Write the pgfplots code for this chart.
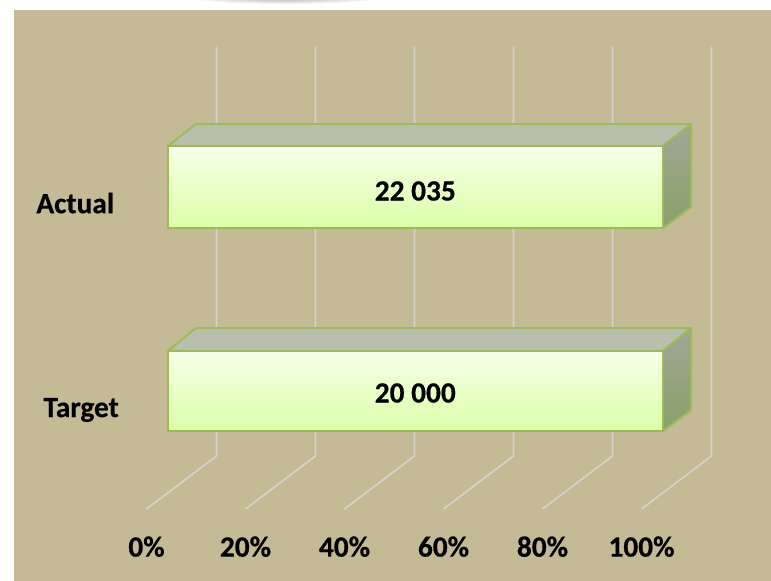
\documentclass[border=0pt]{standalone}
\usepackage{pgfplots}
\usepackage{fontspec}
\setmainfont{Carlito}[BoldFeatures={FakeBold=0.5}]
\pgfplotsset{compat=1.18}
\definecolor{panel}{HTML}{C4BA96}
\definecolor{gridc}{HTML}{D5D3C9}
\definecolor{edge}{HTML}{9BBB59}
\definecolor{topf}{HTML}{B9BFAC}
\definecolor{frontT}{HTML}{F6FFE8}
\definecolor{frontB}{HTML}{DCFFA8}
\definecolor{sideT}{HTML}{A0A698}
\definecolor{sideB}{HTML}{8AA168}

\begin{document}
\begin{tikzpicture}[x=0.75pt,y=-0.75pt]
\path (0,0) rectangle (771,581);
\begin{scope}
\clip (0,0) rectangle (771,10);
\shade[inner color=black!35,outer color=white] (285,-3) ellipse (100 and 7);
\end{scope}
\fill[panel] (14,10) rectangle (771,581);
\begin{axis}[
    at={(109.875pt,-381.75pt)}, anchor=south west,
    scale only axis,
    width=371.25pt, height=346.5pt,
    xmin=0, xmax=100,
    ymin=0, ymax=462,
    clip=false,
    axis line style={draw=none},
    major tick length=0pt,
    xtick={0,20,40,60,80,100},
    xticklabels={0\%,20\%,40\%,60\%,80\%,100\%},
    xticklabel style={font=\fontsize{22}{22}\bfseries, yshift=-17pt},
    ytick=\empty,
]
% gridlines: floor front, elbow, top
\addplot[gridc, line width=1.3pt] coordinates {(0,0) (14.14,53) (14.14,462)};
\addplot[gridc, line width=1.3pt] coordinates {(20,0) (34.14,53) (34.14,462)};
\addplot[gridc, line width=1.3pt] coordinates {(40,0) (54.14,53) (54.14,462)};
\addplot[gridc, line width=1.3pt] coordinates {(60,0) (74.14,53) (74.14,462)};
\addplot[gridc, line width=1.3pt] coordinates {(80,0) (94.14,53) (94.14,462)};
\addplot[gridc, line width=1.3pt] coordinates {(100,0) (114.14,53) (114.14,462)};

% Actual
\addplot[draw=edge, line width=1.5pt, line join=round, fill=topf] coordinates {(4.34,363) (10.0,385) (110.0,385) (104.34,363)} --cycle;
\addplot[draw=edge, line width=1.5pt, line join=round, top color=sideT, bottom color=sideB] coordinates {(104.34,363) (110.0,385) (110.0,302) (104.34,281)} --cycle;
\addplot[draw=edge, line width=1.5pt, line join=round, top color=frontT, bottom color=frontB] coordinates {(4.34,363) (104.34,363) (104.34,281) (4.34,281)} --cycle;

% Target
\addplot[draw=edge, line width=1.5pt, line join=round, fill=topf] coordinates {(4.34,158) (10.0,181) (110.0,181) (104.34,158)} --cycle;
\addplot[draw=edge, line width=1.5pt, line join=round, top color=sideT, bottom color=sideB] coordinates {(104.34,158) (110.0,181) (110.0,99) (104.34,78)} --cycle;
\addplot[draw=edge, line width=1.5pt, line join=round, top color=frontT, bottom color=frontB] coordinates {(4.34,158) (104.34,158) (104.34,78) (4.34,78)} --cycle;

\node[font=\fontsize{22}{22}\bfseries] at (axis cs:54.3,318) {22 035};
\node[font=\fontsize{22}{22}\bfseries] at (axis cs:54.3,116) {20 000};
\node[font=\fontsize{22}{22}\bfseries] at (axis cs:-14.4,306) {Actual};
\node[font=\fontsize{22}{22}\bfseries] at (axis cs:-13.2,99) {Target};
\end{axis}
\end{tikzpicture}
\end{document}
